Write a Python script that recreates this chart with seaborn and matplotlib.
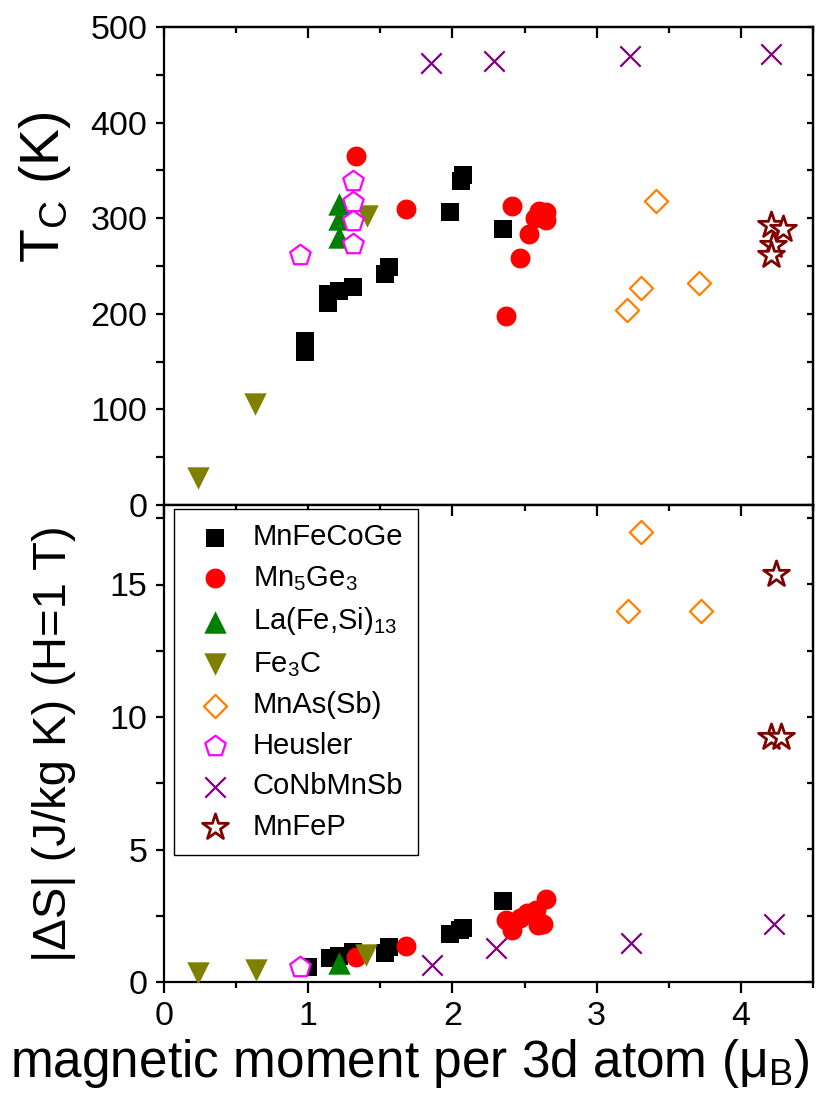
import numpy as np
import pandas as pd
import matplotlib
matplotlib.use("Agg")
import matplotlib.pyplot as plt
import seaborn as sns
from matplotlib.ticker import MultipleLocator

sns.set_style("ticks")
plt.rcParams['font.family'] = ['Liberation Sans', 'DejaVu Sans']
plt.rcParams['mathtext.fontset'] = 'custom'
plt.rcParams['mathtext.rm'] = 'Liberation Sans'
plt.rcParams['mathtext.it'] = 'Liberation Sans:italic'
plt.rcParams['mathtext.bf'] = 'Liberation Sans:bold'
for key in ["text.color", "axes.labelcolor", "xtick.color", "ytick.color", "axes.edgecolor"]:
    plt.rcParams[key] = "black"

# ---------------- data ----------------
labels = ["MnFeCoGe", "Mn$_5$Ge$_3$", "La(Fe,Si)$_{13}$", "Fe$_3$C",
          "MnAs(Sb)", "Heusler", "CoNbMnSb", "MnFeP"]

# Curie temperature (top panel)
mnfecoge_m_tc = [0.98, 0.98, 1.14, 1.14, 1.21, 1.31, 1.53, 1.56, 1.98, 2.06, 2.07, 2.35]
mnfecoge_tc = [172, 160, 211, 221, 224, 228, 242, 249, 306, 339, 345, 289]
mn5ge3_m_tc = [1.33, 1.68, 2.41, 2.60, 2.65, 2.65, 2.57, 2.53, 2.47, 2.37]
mn5ge3_tc = [365, 310, 313, 308, 306, 298, 300, 283, 258, 198]
lafesi_m_tc = [1.21, 1.21, 1.21]
lafesi_tc = [315, 299, 280]
fe3c_m_tc = [0.236, 0.632, 1.405]
fe3c_tc = [28, 106, 302]
mnas_m_tc = [3.21, 3.31, 3.41, 3.71]
mnas_tc = [204, 227, 318, 232]
heusler_m_tc = [0.94, 1.31, 1.31, 1.31, 1.31]
heusler_tc = [261, 339, 317, 297, 273]
conbmnsb_m_tc = [1.85, 2.29, 3.23, 4.21]
conbmnsb_tc = [462, 464, 470, 472]
mnfep_m_tc = [4.21, 4.29, 4.22, 4.21]
mnfep_tc = [293, 289, 272, 261]

# |dS| at H = 1 T (bottom panel)
mnfecoge_m_ds = [1.00, 1.15, 1.21, 1.31, 1.53, 1.56, 1.98, 2.05, 2.07, 2.35]
mnfecoge_ds = [0.58, 0.89, 1.00, 1.14, 1.08, 1.33, 1.83, 1.95, 2.02, 3.07]
mn5ge3_m_ds = [1.33, 1.68, 2.37, 2.41, 2.47, 2.52, 2.58, 2.65, 2.63, 2.59]
mn5ge3_ds = [0.93, 1.36, 2.34, 1.96, 2.40, 2.60, 2.70, 3.15, 2.20, 2.15]
lafesi_m_ds = [1.21]
lafesi_ds = [0.73]
fe3c_m_ds = [0.236, 0.637, 1.40]
fe3c_ds = [0.33, 0.47, 1.02]
mnas_m_ds = [3.22, 3.31, 3.72]
mnas_ds = [14.0, 17.0, 14.0]
heusler_m_ds = [0.945]
heusler_ds = [0.58]
conbmnsb_m_ds = [1.86, 2.30, 3.24, 4.23]
conbmnsb_ds = [0.64, 1.27, 1.46, 2.20]
mnfep_m_ds = [4.24, 4.21, 4.28]
mnfep_ds = [15.4, 9.26, 9.26]

top_series = [(mnfecoge_m_tc, mnfecoge_tc), (mn5ge3_m_tc, mn5ge3_tc), (lafesi_m_tc, lafesi_tc),
              (fe3c_m_tc, fe3c_tc), (mnas_m_tc, mnas_tc), (heusler_m_tc, heusler_tc),
              (conbmnsb_m_tc, conbmnsb_tc), (mnfep_m_tc, mnfep_tc)]
bot_series = [(mnfecoge_m_ds, mnfecoge_ds), (mn5ge3_m_ds, mn5ge3_ds), (lafesi_m_ds, lafesi_ds),
              (fe3c_m_ds, fe3c_ds), (mnas_m_ds, mnas_ds), (heusler_m_ds, heusler_ds),
              (conbmnsb_m_ds, conbmnsb_ds), (mnfep_m_ds, mnfep_ds)]

# ---------------- styles ----------------
styles = [
    dict(marker="s", s=150, color="black", edgecolor="black", linewidth=0),
    dict(marker="o", s=205, color="#FF0000", edgecolor="#FF0000", linewidth=0),
    dict(marker="^", s=260, color="#008000", edgecolor="#008000", linewidth=0),
    dict(marker="v", s=260, color="#808000", edgecolor="#808000", linewidth=0),
    dict(marker="D", s=140, color="white", edgecolor="#FF8000", linewidth=1.6),
    dict(marker="p", s=240, color="white", edgecolor="#FF00FF", linewidth=1.6),
    dict(marker="x", s=215, color="#800080", linewidth=1.6),
    dict(marker="*", s=380, color="white", edgecolor="#800000", linewidth=2.0),
]

W, H = 830, 1105
fig = plt.figure(figsize=(W / 100, H / 100), dpi=100)
left, right = 164 / W, 813 / W
ax_top = fig.add_axes([left, 1 - 505 / H, right - left, 478 / H])
ax_bot = fig.add_axes([left, 1 - 982 / H, right - left, 477 / H])

for ax, series, with_label in [(ax_top, top_series, False), (ax_bot, bot_series, True)]:
    for (xs, ys), st, lab in zip(series, styles, labels):
        df = pd.DataFrame({"m": xs, "v": ys})
        kw = dict(st)
        if with_label:
            kw["label"] = lab
        sns.scatterplot(data=df, x="m", y="v", ax=ax, legend=False, zorder=3, **kw)

LW = 1.6
for ax, ylim, ymaj, ymin in [(ax_top, (0, 500), 100, 50), (ax_bot, (0, 18), 5, 2.5)]:
    ax.set_xlim(0, 4.5)
    ax.set_ylim(*ylim)
    ax.xaxis.set_major_locator(MultipleLocator(1))
    ax.xaxis.set_minor_locator(MultipleLocator(0.5))
    ax.yaxis.set_major_locator(MultipleLocator(ymaj))
    ax.yaxis.set_minor_locator(MultipleLocator(ymin))
    ax.tick_params(which="both", direction="out", width=LW, top=False, right=False,
                   labelsize=24.5, pad=6, colors="black")
    ax.tick_params(axis="x", which="major", length=8)
    ax.tick_params(axis="x", which="minor", length=4.5)
    ax.tick_params(axis="y", which="both", length=6)
    for sp in ax.spines.values():
        sp.set_linewidth(LW)
        sp.set_color("black")
        sp.set_visible(True)
    ax.set_xlabel("")
    ax.set_ylabel("")
    ax.set_facecolor("white")
    # mirrored inward ticks on top and right
    sx = ax.secondary_xaxis("top")
    sx.xaxis.set_major_locator(MultipleLocator(1))
    sx.xaxis.set_minor_locator(MultipleLocator(0.5))
    sx.tick_params(which="both", direction="in", width=LW, labeltop=False, colors="black")
    sx.tick_params(which="major", length=8)
    sx.tick_params(which="minor", length=4)
    sx.spines["top"].set_linewidth(LW)
    sx.spines["top"].set_color("black")
    sy = ax.secondary_yaxis("right")
    sy.yaxis.set_major_locator(MultipleLocator(ymaj))
    sy.yaxis.set_minor_locator(MultipleLocator(ymin))
    sy.tick_params(which="both", direction="in", width=LW, length=4.5, labelright=False,
                   colors="black")
    sy.spines["right"].set_linewidth(LW)
    sy.spines["right"].set_color("black")

ax_top.tick_params(axis="x", labelbottom=False)

ax_top.set_ylabel("T$_\\mathregular{C}$ (K)", fontsize=40, color="black")
ax_top.yaxis.set_label_coords(-0.14, 0.665)
ax_bot.set_ylabel("|\u0394S| (J/kg K) (H=1 T)", fontsize=34, color="black")
ax_bot.yaxis.set_label_coords(-0.135, 0.5)
ax_bot.set_xlabel("magnetic moment per 3d atom (\u03bc$_\\mathregular{B}$)", fontsize=37,
                  color="black")
ax_bot.xaxis.set_label_coords(0.378, -0.115)

leg = ax_bot.legend(loc="upper left", bbox_to_anchor=(0.0154, 0.992), borderaxespad=0,
                    fontsize=21, frameon=True, fancybox=False, framealpha=1,
                    edgecolor="black", borderpad=0.5, handlelength=1.8,
                    handletextpad=0.4, labelspacing=0.43, scatterpoints=1)
leg.get_frame().set_linewidth(1.0)
leg.set_zorder(5)

fig.savefig("out.png", dpi=100, facecolor="white")
